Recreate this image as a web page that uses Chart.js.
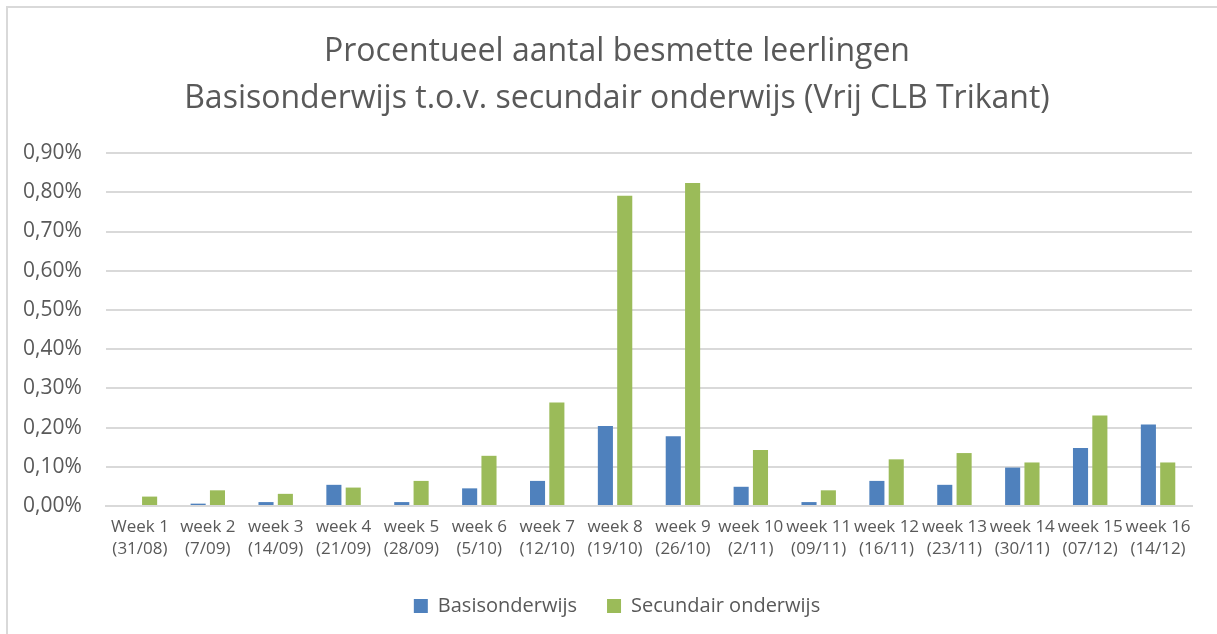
<!DOCTYPE html>
<html>
<head>
<meta charset="utf-8">
<script src="https://cdn.jsdelivr.net/npm/chart.js@4.4.1/dist/chart.umd.min.js"></script>
<style>
  html, body { margin: 0; padding: 0; background: #ffffff; overflow: hidden; }
  #frame { position: absolute; left: 6px; top: 6px; width: 1300px; height: 700px;
           border-left: 2px solid #d9d9d9; border-top: 2px solid #d9d9d9; box-sizing: border-box; }
  #wrap { position: absolute; left: 0; top: 0; width: 1217px; height: 634px; }
</style>
</head>
<body>
<div id="frame"></div>
<div id="wrap"><canvas id="c" width="1217" height="634"></canvas></div>
<script>
const titleLines = ['Procentueel aantal besmette leerlingen', 'Basisonderwijs t.o.v. secundair onderwijs (Vrij CLB Trikant)'];
const weekLabels = ['Week 1', 'week 2', 'week 3', 'week 4', 'week 5', 'week 6', 'week 7', 'week 8',
                    'week 9', 'week 10', 'week 11', 'week 12', 'week 13', 'week 14', 'week 15', 'week 16'];
const weekDates = ['(31/08)', '(7/09)', '(14/09)', '(21/09)', '(28/09)', '(5/10)', '(12/10)', '(19/10)',
                   '(26/10)', '(2/11)', '(09/11)', '(16/11)', '(23/11)', '(30/11)', '(07/12)', '(14/12)'];
// values in percent
const basisonderwijs = [0, 0.006, 0.010, 0.054, 0.010, 0.045, 0.064, 0.204,
                        0.178, 0.049, 0.010, 0.064, 0.054, 0.098, 0.148, 0.208];
const secundairOnderwijs = [0.024, 0.040, 0.031, 0.047, 0.064, 0.128, 0.264, 0.791,
                            0.824, 0.143, 0.040, 0.119, 0.135, 0.111, 0.231, 0.111];
const yMin = 0, yMax = 0.9, yStep = 0.1;

const FONT = "'Open Sans', 'Liberation Sans', sans-serif";
const TXT = '#595959';

new Chart(document.getElementById('c'), {
  type: 'bar',
  data: {
    labels: weekLabels.map((w, i) => [w, weekDates[i]]),
    datasets: [
      { label: 'Basisonderwijs', data: basisonderwijs, backgroundColor: '#4f81bd',
        barPercentage: 0.78, categoryPercentage: 0.57 },
      { label: 'Secundair onderwijs', data: secundairOnderwijs, backgroundColor: '#9bbb59',
        barPercentage: 0.78, categoryPercentage: 0.57 }
    ]
  },
  options: {
    responsive: false,
    animation: false,
    layout: { padding: { left: 42, right: 25, top: 0, bottom: 8 } },
    plugins: {
      title: {
        display: true,
        text: titleLines,
        color: TXT,
        font: { family: FONT, size: 32, weight: 'normal', lineHeight: 1.47 },
        padding: { top: 28, bottom: 31 }
      },
      legend: {
        position: 'bottom',
        labels: {
          color: TXT,
          font: { family: FONT, size: 20 },
          boxWidth: 14, boxHeight: 14,
          padding: 30
        }
      },
      tooltip: { enabled: false }
    },
    scales: {
      x: {
        grid: { display: false, drawTicks: false },
        border: { display: true, color: '#d9d9d9', width: 2 },
        ticks: { color: TXT, font: { family: FONT, size: 17, lineHeight: 1.3 }, padding: 10,
                 maxRotation: 0, autoSkip: false },
        afterFit: (s) => { s.height = 60; }
      },
      y: {
        min: yMin, max: yMax,
        grid: { color: '#d9d9d9', lineWidth: 2, drawTicks: false },
        border: { display: false },
        ticks: {
          stepSize: yStep,
          color: TXT,
          font: { family: FONT, size: 21 },
          mirror: true,
          crossAlign: 'near',
          padding: -83,
          callback: (v) => v.toFixed(2).replace('.', ',') + '%'
        },
        afterFit: (s) => { s.width = 64; }
      }
    }
  }
});
</script>
</body>
</html>
